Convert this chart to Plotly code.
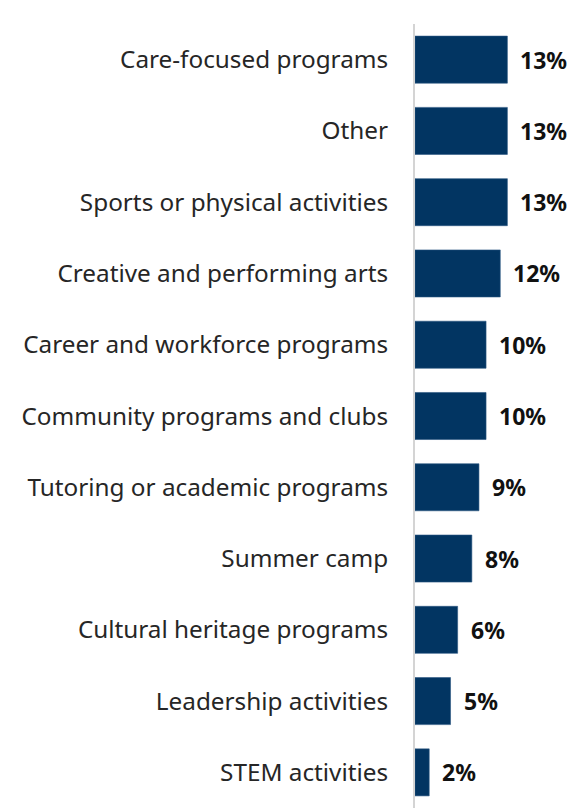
import plotly.graph_objects as go

categories = [
    "Care-focused programs",
    "Other",
    "Sports or physical activities",
    "Creative and performing arts",
    "Career and workforce programs",
    "Community programs and clubs",
    "Tutoring or academic programs",
    "Summer camp",
    "Cultural heritage programs",
    "Leadership activities",
    "STEM activities",
]
values = [13, 13, 13, 12, 10, 10, 9, 8, 6, 5, 2]

BAR_COLOR = "#023562"
LABEL_FONT = "Noto Sans, sans-serif"

fig = go.Figure()
fig.add_trace(go.Bar(
    x=values,
    y=categories,
    orientation="h",
    marker=dict(color=BAR_COLOR, line=dict(color="#2a5582", width=0.6)),
    hoverinfo="skip",
))

# value labels to the right of each bar
for c, v in zip(categories, values):
    fig.add_annotation(
        x=v, y=c, text=f"<b>{v}%</b>", showarrow=False,
        xanchor="left", xshift=11, yshift=0,
        font=dict(family=LABEL_FONT, size=23, color="#111111"),
    )

fig.update_layout(
    width=577, height=808,
    margin=dict(l=415, r=0, t=24, b=0),
    paper_bgcolor="white", plot_bgcolor="white",
    bargap=0.34,
    showlegend=False,
    font=dict(family=LABEL_FONT, size=24, color="#262626"),
)
fig.update_xaxes(range=[0, 22.8], visible=False)
fig.update_yaxes(
    categoryorder="array", categoryarray=categories[::-1],
    showline=True, linecolor="#d4d4d4", linewidth=2,
    showgrid=False, ticks="", ticklabelstandoff=20,
    tickfont=dict(family=LABEL_FONT, size=24.3, color="#262626"),
)

fig.write_html("out.html")
